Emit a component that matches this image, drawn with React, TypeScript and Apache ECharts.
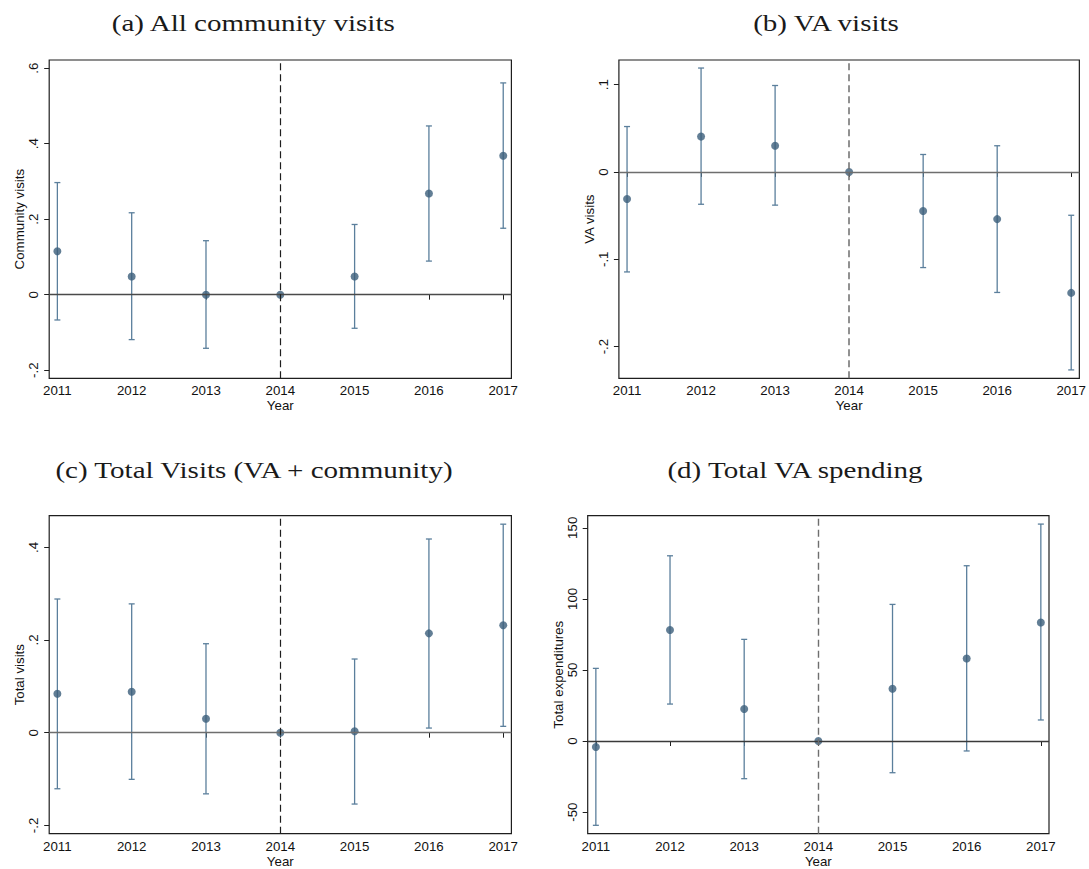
import React, { useEffect, useRef } from "react";
import * as echarts from "echarts";

// Event-study estimates by year (2014 is the reference year, no interval)
const years = [2011, 2012, 2013, 2014, 2015, 2016, 2017];

const communityEst = [0.115, 0.048, 0.0, 0, 0.048, 0.268, 0.368];
const communityLo = [-0.067, -0.119, -0.142, null, -0.089, 0.089, 0.176];
const communityHi = [0.297, 0.217, 0.143, null, 0.186, 0.447, 0.561];

const vaEst = [-0.031, 0.0405, 0.03, 0, -0.0447, -0.054, -0.1385];
const vaLo = [-0.1145, -0.037, -0.038, null, -0.1095, -0.138, -0.2267];
const vaHi = [0.052, 0.119, 0.099, null, 0.02, 0.03, -0.0496];

const totalEst = [0.084, 0.0885, 0.03, 0, 0.003, 0.2144, 0.2317];
const totalLo = [-0.121, -0.1007, -0.132, null, -0.154, 0.01, 0.0137];
const totalHi = [0.2885, 0.278, 0.192, null, 0.159, 0.418, 0.45];

const spendEst = [-4.2, 78.1, 22.5, 0, 36.8, 58.1, 83.4];
const spendLo = [-59.3, 26.0, -26.5, null, -22.3, -7.0, 14.8];
const spendHi = [51.1, 130.3, 71.5, null, 96.1, 123.3, 152.6];

const communityTicks = [-0.2, 0, 0.2, 0.4, 0.6];
const vaTicks = [-0.2, -0.1, 0, 0.1];
const totalTicks = [-0.2, 0, 0.2, 0.4];
const spendTicks = [-50, 0, 50, 100, 150];

const titles = [
  "(a) All community visits",
  "(b) VA visits",
  "(c) Total Visits (VA + community)",
  "(d) Total VA spending",
];
const yNames = ["Community visits", "VA visits", "Total visits", "Total expenditures"];

const DOT = "#3b5e7b";
const BAR = "#5b7f9c";
const FRAME = "#1e1e1e";
const SANS = "'Liberation Sans', Arial, sans-serif";
const SERIF = "'Liberation Serif', 'Times New Roman', serif";
const AXIS_FONT = 13.3;

// Stata-style tick text: .2, -.2, 0
const fmt = (v: number) => {
  const r = Math.round(v * 10000) / 10000;
  return String(r).replace(/^(-?)0\./, "$1.");
};

type Panel = {
  est: number[];
  lo: (number | null)[];
  hi: (number | null)[];
  ticks: number[];
  yMin: number;
  yMax: number;
  grid: { left: number; top: number; width: number; height: number };
  zeroColor: string;
  refColor: string;
  refWidth: number;
  titlePos: [number, number];
};

const panels: Panel[] = [
  {
    est: communityEst, lo: communityLo, hi: communityHi, ticks: communityTicks,
    yMin: -0.2215, yMax: 0.6217,
    grid: { left: 49.2, top: 60, width: 462.2, height: 318.3 },
    zeroColor: "#4a4a4a", refColor: "#1e1e1e", refWidth: 1.2,
    titlePos: [253.3, 22.5],
  },
  {
    est: vaEst, lo: vaLo, hi: vaHi, ticks: vaTicks,
    yMin: -0.2363, yMax: 0.1282,
    grid: { left: 618.9, top: 60, width: 462.1, height: 318.3 },
    zeroColor: "#6e6e6e", refColor: "#6e6e6e", refWidth: 1.5,
    titlePos: [826, 22.5],
  },
  {
    est: totalEst, lo: totalLo, hi: totalHi, ticks: totalTicks,
    yMin: -0.218, yMax: 0.4683,
    grid: { left: 49.2, top: 515.7, width: 462.2, height: 318 },
    zeroColor: "#6e6e6e", refColor: "#1e1e1e", refWidth: 1.2,
    titlePos: [254, 470],
  },
  {
    est: spendEst, lo: spendLo, hi: spendHi, ticks: spendTicks,
    yMin: -65.2, yMax: 158.5,
    grid: { left: 587.7, top: 515.7, width: 461.3, height: 318 },
    zeroColor: "#3a3a3a", refColor: "#6e6e6e", refWidth: 1.4,
    titlePos: [795, 470],
  },
];

function buildOption() {
  const grids: any[] = [];
  const xAxes: any[] = [];
  const yAxes: any[] = [];
  const series: any[] = [];
  const graphics: any[] = [];

  panels.forEach((p, i) => {
    grids.push({
      ...p.grid,
      show: true,
      borderColor: FRAME,
      borderWidth: 1.2,
      backgroundColor: "transparent",
    });

    xAxes.push({
      type: "value",
      gridIndex: i,
      min: 2010.89,
      max: 2017.11,
      splitLine: { show: false },
      axisLine: { show: false },
      axisTick: { show: true, length: 5, customValues: years, lineStyle: { color: FRAME, width: 1 } },
      axisLabel: {
        customValues: years,
        formatter: (v: number) => String(Math.round(v)),
        margin: 6,
        fontFamily: SANS,
        fontSize: AXIS_FONT,
        color: "#111",
      },
      name: "Year",
      nameLocation: "middle",
      nameGap: 21,
      nameTextStyle: { fontFamily: SANS, fontSize: AXIS_FONT, color: "#111" },
    });

    yAxes.push({
      type: "value",
      gridIndex: i,
      min: p.yMin,
      max: p.yMax,
      splitLine: { show: false },
      axisLine: { show: false },
      axisTick: { show: true, length: 5, customValues: p.ticks, lineStyle: { color: FRAME, width: 1 } },
      axisLabel: {
        customValues: p.ticks,
        rotate: 90,
        margin: 9,
        formatter: fmt,
        fontFamily: SANS,
        fontSize: AXIS_FONT,
        color: "#111",
      },
      name: yNames[i],
      nameLocation: "middle",
      nameGap: 23,
      nameTextStyle: { fontFamily: SANS, fontSize: AXIS_FONT, color: "#111" },
    });

    const ciData = years
      .map((y, k) => [y, p.lo[k], p.hi[k]])
      .filter((d) => d[1] !== null && d[2] !== null);

    series.push({
      type: "custom",
      xAxisIndex: i,
      yAxisIndex: i,
      z: 2,
      silent: true,
      encode: { x: 0, y: [1, 2] },
      data: ciData,
      renderItem: (_params: any, api: any) => {
        const x = api.value(0);
        const top = api.coord([x, api.value(2)]);
        const bot = api.coord([x, api.value(1)]);
        const w = 3;
        const style = { stroke: BAR, lineWidth: 1.3, fill: null };
        return {
          type: "group",
          children: [
            { type: "line", shape: { x1: top[0], y1: top[1], x2: bot[0], y2: bot[1] }, style },
            { type: "line", shape: { x1: top[0] - w, y1: top[1], x2: top[0] + w, y2: top[1] }, style },
            { type: "line", shape: { x1: bot[0] - w, y1: bot[1], x2: bot[0] + w, y2: bot[1] }, style },
          ],
        };
      },
      markLine: {
        silent: true,
        symbol: ["none", "none"],
        label: { show: false },
        emphasis: { disabled: true },
        data: [
          { yAxis: 0, lineStyle: { color: p.zeroColor, width: 1.3, type: "solid" } },
          { xAxis: 2014, lineStyle: { color: p.refColor, width: p.refWidth, type: [7, 4] } },
        ],
      },
    });

    series.push({
      type: "scatter",
      xAxisIndex: i,
      yAxisIndex: i,
      z: 4,
      silent: true,
      symbol: "circle",
      symbolSize: 8,
      itemStyle: { color: DOT },
      data: years.map((y, k) => [y, p.est[k]]),
    });

    graphics.push({
      type: "text",
      x: p.titlePos[0],
      y: p.titlePos[1],
      scaleX: 1.21,
      style: {
        text: titles[i],
        fontFamily: SERIF,
        fontSize: 24,
        fill: "#1a1a1a",
        align: "center",
        textAlign: "center",
        verticalAlign: "middle",
        textVerticalAlign: "middle",
      },
    });
  });

  return {
    animation: false,
    backgroundColor: "#ffffff",
    grid: grids,
    xAxis: xAxes,
    yAxis: yAxes,
    series,
    graphic: graphics,
  };
}

export default function App() {
  const ref = useRef<HTMLDivElement>(null);
  useEffect(() => {
    if (!ref.current) return;
    const chart = echarts.init(ref.current, undefined, { renderer: "svg" });
    chart.setOption(buildOption());
    return () => chart.dispose();
  }, []);
  return (
    <div
      ref={ref}
      style={{ position: "absolute", left: 0, top: 0, width: 1089, height: 869, background: "#fff" }}
    />
  );
}
